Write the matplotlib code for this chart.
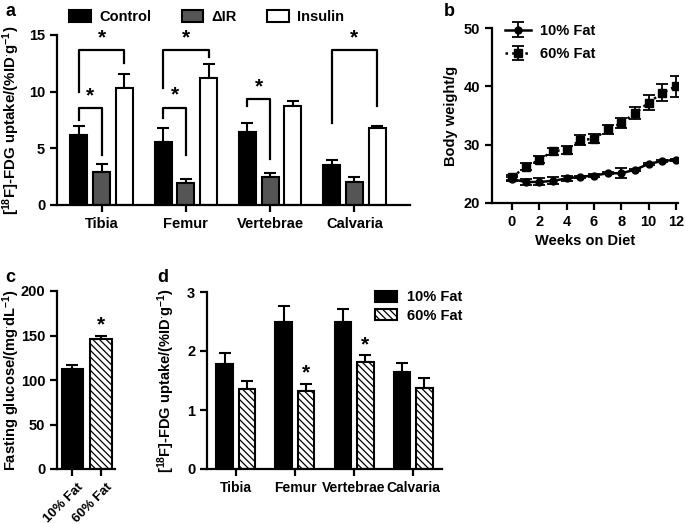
import matplotlib
matplotlib.use("Agg")
import matplotlib.pyplot as plt
import matplotlib.transforms as mtrans
import numpy as np

plt.rcParams['font.family'] = ['Liberation Sans', 'DejaVu Sans']
plt.rcParams['font.weight'] = 'bold'
plt.rcParams['axes.labelweight'] = 'bold'
plt.rcParams['mathtext.fontset'] = 'custom'
plt.rcParams['mathtext.rm'] = 'Liberation Sans:bold'
plt.rcParams['mathtext.it'] = 'Liberation Sans:bold'
plt.rcParams['mathtext.bf'] = 'Liberation Sans:bold'
plt.rcParams['mathtext.default'] = 'rm'
plt.rcParams['hatch.linewidth'] = 0.9
plt.rcParams['axes.linewidth'] = 1.6

#### DATA ####
# panel a
bones = ['Tibia', 'Femur', 'Vertebrae', 'Calvaria']
a_groups = ['Control', '\u0394IR', 'Insulin']
a_control = [6.15, 5.55, 6.4, 3.5]
a_control_err = [0.8, 1.2, 0.8, 0.45]
a_dir = [2.95, 1.95, 2.45, 2.05]
a_dir_err = [0.65, 0.35, 0.35, 0.45]
a_insulin = [10.3, 11.2, 8.75, 6.75]
a_insulin_err = [1.3, 1.25, 0.45, 0.2]
# brackets: (bone, group1, group2, top, left end, right end)
a_brackets = [
    (0, 0, 1, 8.55, 7.5, 4.4),
    (0, 0, 2, 13.7, 10.0, 12.55),
    (1, 0, 1, 8.6, 7.65, 4.4),
    (1, 0, 2, 13.7, 10.3, 13.1),
    (2, 0, 1, 9.35, 8.7, 4.1),
    (3, 0, 2, 13.7, 7.2, 8.7),
]

# panel b
weeks = list(range(13))
bw_10 = [24.1, 23.6, 23.6, 23.8, 24.2, 24.5, 24.7, 25.1, 25.1, 25.7, 26.7, 27.2, 27.4]
bw_10_err = [0.3, 0.5, 0.6, 0.6, 0.5, 0.2, 0.2, 0.2, 0.9, 0.2, 0.2, 0.2, 0.2]
bw_60 = [24.4, 26.2, 27.4, 28.9, 29.1, 30.8, 31.0, 32.6, 33.7, 35.4, 37.2, 38.9, 40.0]
bw_60_err = [0.4, 0.6, 0.6, 0.6, 0.7, 0.8, 0.8, 0.8, 0.8, 1.0, 1.3, 1.5, 1.8]

# panel c
diets = ['10% Fat', '60% Fat']
glucose = [112, 146]
glucose_err = [5, 3.5]

# panel d
d_10 = [1.78, 2.5, 2.5, 1.64]
d_10_err = [0.19, 0.27, 0.22, 0.16]
d_60 = [1.35, 1.32, 1.81, 1.38]
d_60_err = [0.15, 0.12, 0.12, 0.17]
d_sig = [False, True, True, False]

W, H = 685, 524
fig = plt.figure(figsize=(W / 100, H / 100), dpi=100)


def box(l, t, r, b):
    # pixel box -> figure axes
    return fig.add_axes([l / W, 1 - b / H, (r - l) / W, (b - t) / H])


def style(ax, size=10.5):
    for s in ['top', 'right']:
        ax.spines[s].set_visible(False)
    ax.tick_params(width=1.6, length=5, labelsize=size)
    for lab in ax.get_xticklabels() + ax.get_yticklabels():
        lab.set_fontweight('bold')


hatch = '\\' * 5
ebkw = dict(fmt='none', ecolor='black', elinewidth=1.5, capsize=4, capthick=1.5)
fdg_label = r'[$^{18}$F]-FDG uptake/(%ID$^{\cdot}$g$^{-1}$)'

#### PANEL A ####
ax = box(57, 35, 410, 205)
x = np.arange(len(bones))
offs = [-0.27, 0.0, 0.27]
cols = ['black', '#555555', 'white']
vals = [a_control, a_dir, a_insulin]
errs = [a_control_err, a_dir_err, a_insulin_err]
for k in range(3):
    ax.bar(x + offs[k], vals[k], 0.2, color=cols[k], edgecolor='black',
           linewidth=1.5, label=a_groups[k], zorder=2)
    ax.errorbar(x + offs[k], vals[k], yerr=[np.zeros(4), errs[k]], **ebkw, zorder=1)
for bi, g1, g2, top, y1, y2 in a_brackets:
    x1, x2 = bi + offs[g1], bi + offs[g2]
    ax.plot([x1, x1, x2, x2], [y1, top, top, y2], color='black', lw=1.6)
    ax.text((x1 + x2) / 2, top + 0.25, '*', ha='center', va='bottom',
            fontsize=15, fontweight='bold')
ax.set_xlim(-0.53, 3.66)
ax.set_ylim(0, 15)
ax.set_yticks([0, 5, 10, 15])
ax.set_xticks(x)
ax.set_xticklabels(bones)
ax.set_ylabel(fdg_label, fontsize=10.8)
ax.yaxis.set_label_coords(-0.099, 0.5)
style(ax)
ax.legend(loc='center left', bbox_to_anchor=(12 / 353, 1.105), ncol=3, frameon=False,
          handlelength=1.5, handleheight=0.85, columnspacing=2.1,
          handletextpad=0.55, borderaxespad=0.0, borderpad=0.0,
          prop={'weight': 'bold', 'size': 10.5})
fig.text(5 / W, 1 - 12 / H, 'a', fontsize=13, fontweight='bold', va='center')

#### PANEL B ####
ax = box(492, 28, 678, 203)
ax.errorbar(weeks, bw_10, yerr=bw_10_err, color='black', lw=1.8, marker='o',
            ms=5, capsize=4, elinewidth=1.3, capthick=1.3, label='10% Fat')
ax.errorbar(weeks, bw_60, yerr=bw_60_err, color='black', lw=1.8, ls=':',
            marker='s', ms=5.5, capsize=4, elinewidth=1.3, capthick=1.3,
            label='60% Fat')
ax.set_xlim(-1.46, 12.15)
ax.set_ylim(20, 50)
ax.set_yticks([20, 30, 40, 50])
ax.set_xticks([0, 2, 4, 6, 8, 10, 12])
ax.set_xlabel('Weeks on Diet', fontsize=10.5)
ax.set_ylabel('Body weight/g', fontsize=10.5)
style(ax)
ax.legend(loc='upper left', bbox_to_anchor=(0.0, 1.1), frameon=False,
          handlelength=1.8, handletextpad=0.6, labelspacing=0.65,
          prop={'weight': 'bold', 'size': 10.5})
fig.text(444 / W, 1 - 12 / H, 'b', fontsize=13, fontweight='bold', va='center')

#### PANEL C ####
ax = box(57, 291, 115, 469)
xc = np.arange(2)
ax.bar(xc[0], glucose[0], 0.74, color='black', edgecolor='black', linewidth=1.5, zorder=2)
ax.bar(xc[1], glucose[1], 0.74, color='white', edgecolor='black', hatch=hatch,
       linewidth=1.5, zorder=2)
ax.errorbar(xc, glucose, yerr=[np.zeros(2), glucose_err], **ebkw, zorder=1)
ax.text(xc[1], glucose[1] + glucose_err[1] + 2, '*', ha='center', va='bottom',
        fontsize=15, fontweight='bold')
ax.set_xlim(-0.54, 1.49)
ax.set_ylim(0, 200)
ax.set_yticks([0, 50, 100, 150, 200])
ax.set_xticks(xc)
style(ax)
ax.set_xticklabels(diets, rotation=45, ha='right', rotation_mode='anchor',
                   fontsize=9.5, fontweight='bold')
shift = mtrans.ScaledTranslation(0.05, 0.0, fig.dpi_scale_trans)
for lab in ax.get_xticklabels():
    lab.set_transform(lab.get_transform() + shift)
ax.set_ylabel(r'Fasting glucose/(mg$^{\cdot}$dL$^{-1}$)', fontsize=10.5)
ax.yaxis.set_label_coords(-0.6, 0.5)
fig.text(5 / W, 1 - 277 / H, 'c', fontsize=13, fontweight='bold', va='center')

#### PANEL D ####
ax = box(207, 292, 442, 469)
xd = np.arange(4)
ax.bar(xd - 0.19, d_10, 0.28, color='black', edgecolor='black', linewidth=1.5,
       label='10% Fat', zorder=2)
ax.bar(xd + 0.19, d_60, 0.28, color='white', edgecolor='black', hatch=hatch,
       linewidth=1.5, label='60% Fat', zorder=2)
ax.errorbar(xd - 0.19, d_10, yerr=[np.zeros(4), d_10_err], **ebkw, zorder=1)
ax.errorbar(xd + 0.19, d_60, yerr=[np.zeros(4), d_60_err], **ebkw, zorder=1)
for i in range(4):
    if d_sig[i]:
        ax.text(i + 0.19, d_60[i] + d_60_err[i] + 0.02, '*', ha='center',
                va='bottom', fontsize=15, fontweight='bold')
ax.set_xlim(-0.49, 3.49)
ax.set_ylim(0, 3)
ax.set_yticks([0, 1, 2, 3])
ax.set_xticks(xd)
ax.set_ylabel(fdg_label, fontsize=10.5)
ax.yaxis.set_label_coords(-0.128, 0.5)
style(ax)
ax.set_xticklabels(bones, fontsize=10, fontweight='bold')
ax.legend(loc='upper left', bbox_to_anchor=(0.66, 1.083), frameon=False,
          handlelength=1.5, handleheight=0.85, handletextpad=0.7, labelspacing=0.28,
          prop={'weight': 'bold', 'size': 10.5})
fig.text(157 / W, 1 - 277 / H, 'd', fontsize=13, fontweight='bold', va='center')

fig.savefig('out.png', dpi=100)
